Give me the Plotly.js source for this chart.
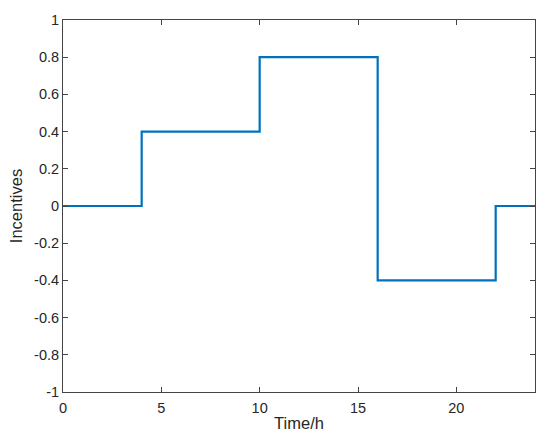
<!DOCTYPE html>
<html>
<head>
<meta charset="utf-8">
<script src="https://cdn.plot.ly/plotly-3.0.1.min.js"></script>
<style>
  html, body { margin: 0; padding: 0; background: #fff; }
  #chart { width: 550px; height: 438px; }
</style>
</head>
<body>
<div id="chart"></div>
<script>
// step points (value holds until the next hour)
const hours = [0, 4, 10, 16, 22, 24];
const incentives = [0, 0.4, 0.8, -0.4, 0, 0];

const xTickVals = [0, 5, 10, 15, 20];
const yTickVals = [-1, -0.8, -0.6, -0.4, -0.2, 0, 0.2, 0.4, 0.6, 0.8, 1];
const yTickText = ["-1", "-0.8", "-0.6", "-0.4", "-0.2", "0", "0.2", "0.4", "0.6", "0.8", "1"];

const axisColor = "#444444";
const textColor = "#262626";

const trace = {
  x: hours,
  y: incentives,
  type: "scatter",
  mode: "lines",
  line: { color: "#0072BD", width: 2.2, shape: "hv" },
  hoverinfo: "x+y",
};

const layout = {
  width: 550,
  height: 438,
  margin: { l: 63, r: 14.5, t: 20, b: 45.5 },
  paper_bgcolor: "#ffffff",
  plot_bgcolor: "#ffffff",
  showlegend: false,
  font: { family: "Liberation Sans, Arial, sans-serif", size: 14.5, color: textColor },
  xaxis: {
    range: [0, 24],
    tickvals: xTickVals,
    tickfont: { size: 14.5, color: textColor },
    ticks: "inside",
    ticklen: 5,
    tickcolor: axisColor,
    ticklabelstandoff: 3,
    showline: true,
    linecolor: axisColor,
    linewidth: 1,
    mirror: "ticks",
    showgrid: false,
    zeroline: false,
    title: { text: "Time/h", font: { size: 16.5, color: textColor }, standoff: 2 },
  },
  yaxis: {
    range: [-1, 1],
    tickvals: yTickVals,
    ticktext: yTickText,
    tickfont: { size: 14.5, color: textColor },
    ticks: "inside",
    ticklen: 5,
    tickcolor: axisColor,
    showline: true,
    linecolor: axisColor,
    linewidth: 1,
    mirror: "ticks",
    showgrid: false,
    zeroline: false,
    title: { text: "Incentives", font: { size: 16.5, color: textColor }, standoff: 7 },
  },
};

Plotly.newPlot("chart", [trace], layout, { displayModeBar: false, staticPlot: true });
</script>
</body>
</html>
